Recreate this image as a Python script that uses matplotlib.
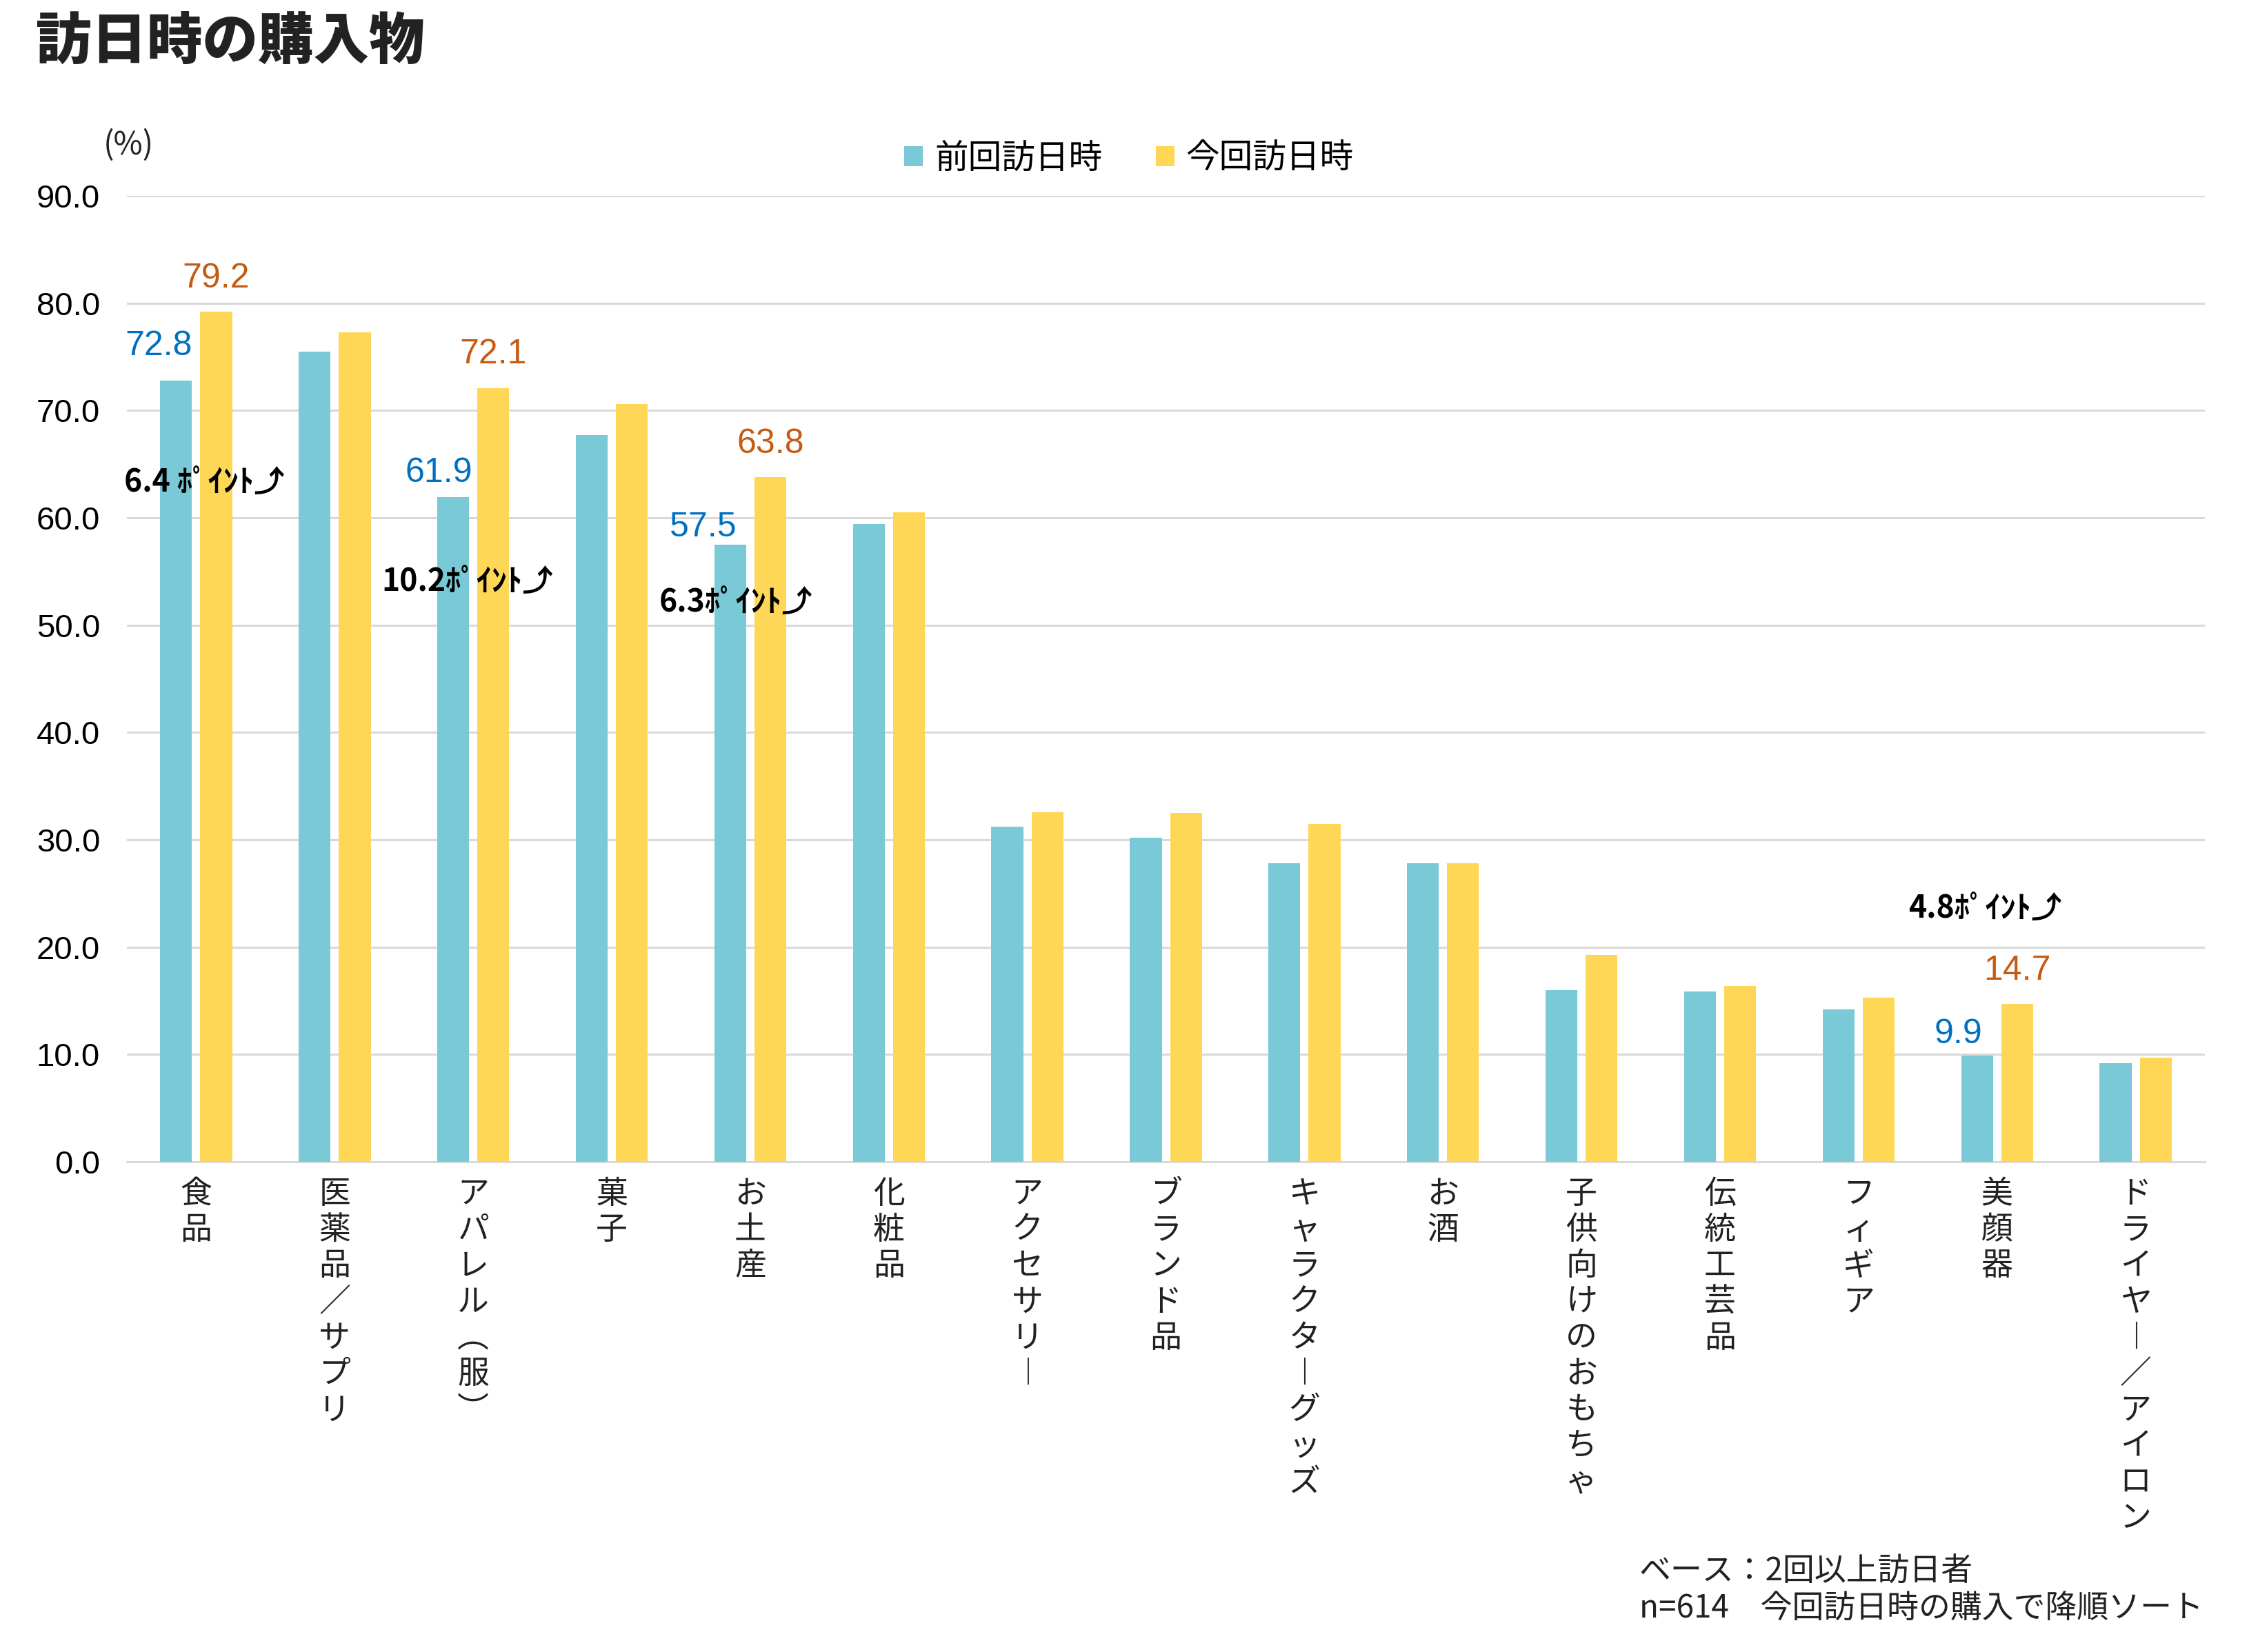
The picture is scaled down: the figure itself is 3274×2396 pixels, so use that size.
import matplotlib
matplotlib.use("Agg")
import matplotlib.pyplot as plt
import numpy as np

plt.rcParams['font.family'] = ['Noto Sans CJK JP', 'DejaVu Sans']

categories = ["食品", "医薬品／サプリ", "アパレル（服）", "菓子", "お土産", "化粧品",
              "アクセサリー", "ブランド品", "キャラクターグッズ", "お酒",
              "子供向けのおもちゃ", "伝統工芸品", "フィギア", "美顔器", "ドライヤー／アイロン"]
previous_visit = [72.8, 75.5, 61.9, 67.7, 57.5, 59.4, 31.2, 30.2, 27.8, 27.8,
                  16.0, 15.9, 14.2, 9.9, 9.2]
current_visit = [79.2, 77.3, 72.1, 70.6, 63.8, 60.5, 32.6, 32.5, 31.5, 27.8,
                 19.3, 16.4, 15.3, 14.7, 9.7]
series_names = ["前回訪日時", "今回訪日時"]
y_ticks = [0, 10, 20, 30, 40, 50, 60, 70, 80, 90]

# highlighted categories (index) and their point-increase notes
highlight_idx = [0, 2, 4, 13]
increase_notes = ["6.4 ﾎﾟｲﾝﾄ⤴", "10.2ﾎﾟｲﾝﾄ⤴", "6.3ﾎﾟｲﾝﾄ⤴", "4.8ﾎﾟｲﾝﾄ⤴"]

TEAL = "#7AC9D6"
YELLOW = "#FFD757"
BLUE_TXT = "#0070C0"
ORANGE_TXT = "#C55A11"
GRID = "#D9D9D9"

def vertical(s):
    rep = {"ー": "︱", "（": "︵", "）": "︶"}
    return "\n".join(rep.get(c, c) for c in s)

fig = plt.figure(figsize=(16.37, 11.98), dpi=200)
ax = fig.add_axes([0.0562, 0.2967, 0.9203, 0.5848])

x = np.arange(len(categories))
w = 0.23
off = 0.145
ax.bar(x - off, previous_visit, width=w, color=TEAL, label=series_names[0], zorder=3)
ax.bar(x + off, current_visit, width=w, color=YELLOW, label=series_names[1], zorder=3)

ax.set_xlim(-0.5, len(categories) - 0.5)
ax.set_ylim(0, 90)
ax.set_yticks(y_ticks)
ax.set_yticklabels([f"{v:.1f}" for v in y_ticks], fontfamily="Liberation Sans", fontsize=17)
ax.tick_params(axis='y', length=0, pad=14)
ax.yaxis.grid(True, color=GRID, linewidth=1.1, zorder=0)
ax.set_axisbelow(True)
for s in ["top", "right", "left"]:
    ax.spines[s].set_visible(False)
ax.spines["bottom"].set_color(GRID)
ax.spines["bottom"].set_linewidth(1.1)

ax.set_xticks(x)
ax.set_xticklabels([vertical(c) for c in categories], fontsize=16.5, linespacing=1.1,
                   va="top", color="#222222")
ax.tick_params(axis='x', length=0, pad=8)

# data labels for highlighted categories
prev_dx = [-0.27, -0.25, -0.34, -0.28]
prev_dy = [3.2, 2.3, 1.6, 2.0]
for k, i in enumerate(highlight_idx):
    ax.text(i + prev_dx[k], previous_visit[i] + prev_dy[k], f"{previous_visit[i]:.1f}",
            color=BLUE_TXT, fontsize=18, fontfamily="Liberation Sans",
            ha="center", va="center")
    ax.text(i + off, current_visit[i] + 3.1, f"{current_visit[i]:.1f}",
            color=ORANGE_TXT, fontsize=18, fontfamily="Liberation Sans",
            ha="center", va="center")

note_pos = [(-0.52, 63.3), (1.34, 54.0), (3.34, 52.1), (12.36, 23.6)]
for (nx, ny), note in zip(note_pos, increase_notes):
    ax.text(nx, ny, note, fontsize=16, fontweight="bold", color="black",
            ha="left", va="center", zorder=5)

fig.text(0.016, 0.974, "訪日時の購入物", fontsize=29, fontweight="heavy",
         color="#222222", ha="left", va="center")
fig.text(0.0458, 0.912, "(%)", fontsize=16.5, color="#222222", ha="left", va="center")

fig.legend(loc="center", bbox_to_anchor=(0.5, 1 - 230 / 2396), ncol=2, frameon=False,
           fontsize=17.5, handlelength=0.55, handleheight=0.55, handletextpad=0.35,
           columnspacing=1.6)

fig.text(0.726, 0.049, "ベース：2回以上訪日者", fontsize=16.5, color="#222222",
         ha="left", va="center")
fig.text(0.726, 0.026, "n=614　今回訪日時の購入で降順ソート", fontsize=16.5,
         color="#222222", ha="left", va="center")

fig.savefig("out.png", dpi=200)
